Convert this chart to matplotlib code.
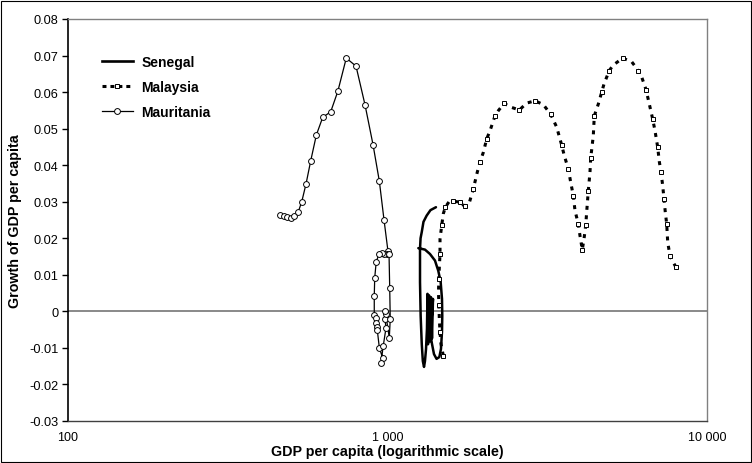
import matplotlib
matplotlib.use("Agg")
import matplotlib.pyplot as plt
from matplotlib.patches import Rectangle
from matplotlib.lines import Line2D

plt.rcParams['font.family'] = ['Liberation Sans', 'DejaVu Sans']

# ---------------- data ----------------
senegal_gdp = [1249, 1310, 1358, 1408, 1442, 1467, 1481, 1484, 1481, 1470, 1453,
               1424, 1398, 1378, 1363,
               1388, 1378, 1368, 1358, 1349, 1339, 1334,
               1329, 1320, 1310, 1301, 1290, 1280, 1270, 1264, 1264, 1269, 1280,
               1296, 1326, 1363, 1418]
senegal_growth = [0.0173, 0.0169, 0.0157, 0.0139, 0.0111, 0.0080, 0.0034, -0.0012,
                  -0.0056, -0.0103, -0.0125, -0.0130, -0.0117, -0.0089, -0.0065,
                  0.0034, -0.0074, 0.0039, -0.0082, 0.0044, -0.0090, 0.0048,
                  -0.0048, -0.0103, -0.0136, -0.0152, -0.0136, -0.0089, -0.0013,
                  0.0080, 0.0171, 0.0200, 0.0217, 0.0245, 0.0262, 0.0277, 0.0285]

malaysia_gdp = [1495, 1470, 1460, 1453, 1448, 1444, 1448, 1453, 1460, 1460, 1478,
                1495, 1517, 1558, 1600, 1647, 1686, 1723, 1748, 1803, 1856, 1910,
                1948, 1995, 2044, 2093, 2170, 2222, 2316, 2448, 2586, 2727, 2895,
                3073, 3242, 3385, 3509, 3576, 3680, 3745, 3815, 3862, 3955, 4004,
                4071, 4121, 4172, 4220, 4251, 4303, 4325, 4407, 4439, 4568, 4682,
                4760, 4945, 5090, 5447, 5812, 6096, 6247, 6443, 6599, 6762, 6875,
                7010, 7091, 7179, 7267, 7335, 7405, 7480, 7534, 7660, 7788, 7981]
malaysia_growth = [-0.0121, -0.0089, -0.0057, -0.0021, 0.0018, 0.0053, 0.0089,
                   0.0122, 0.0157, 0.0198, 0.0235, 0.0267, 0.0285, 0.0300, 0.0302,
                   0.0300, 0.0299, 0.0291, 0.0289, 0.0297, 0.0335, 0.0381, 0.0409,
                   0.0435, 0.0472, 0.0494, 0.0535, 0.0549, 0.0569, 0.0558, 0.0551,
                   0.0570, 0.0576, 0.0566, 0.0539, 0.0504, 0.0455, 0.0426, 0.0390,
                   0.0353, 0.0317, 0.0276, 0.0239, 0.0207, 0.0169, 0.0198, 0.0235,
                   0.0294, 0.0330, 0.0381, 0.0419, 0.0481, 0.0535, 0.0567, 0.0600,
                   0.0622, 0.0659, 0.0674, 0.0693, 0.0683, 0.0659, 0.0641, 0.0607,
                   0.0567, 0.0526, 0.0494, 0.0449, 0.0410, 0.0381, 0.0344, 0.0308,
                   0.0271, 0.0239, 0.0189, 0.0152, 0.0139, 0.0122]

mauritania_gdp = [461, 474, 486, 498, 511, 526, 539, 556, 575, 599, 627, 664, 699,
                  743, 797, 850, 901, 943, 975, 1003, 994, 975, 959, 941, 922, 912,
                  909, 909, 922, 920, 927, 929, 943, 966, 954, 970, 989, 982, 987,
                  984, 1013, 1020, 1016, 1011]
mauritania_growth = [0.0264, 0.0260, 0.0258, 0.0256, 0.0260, 0.0273, 0.0300,
                     0.0349, 0.0412, 0.0483, 0.0531, 0.0546, 0.0602, 0.0693,
                     0.0671, 0.0566, 0.0456, 0.0356, 0.0251, 0.0166, 0.0158,
                     0.0158, 0.0160, 0.0157, 0.0136, 0.0092, 0.0042, -0.0010,
                     -0.0018, -0.0032, -0.0043, -0.0051, -0.0100, -0.0128,
                     -0.0141, -0.0094, -0.0046, -0.0021, -0.0007, 0.0002,
                     -0.0073, -0.0021, 0.0065, 0.0158]

y_ticks = [-0.03, -0.02, -0.01, 0, 0.01, 0.02, 0.03, 0.04, 0.05, 0.06, 0.07, 0.08]
y_tick_labels = ['-0.03', '-0.02', '-0.01', '0', '0.01', '0.02', '0.03', '0.04',
                 '0.05', '0.06', '0.07', '0.08']
x_ticks = [100, 1000, 10000]
x_tick_labels = ['100', '1 000', '10 000']

# ---------------- figure ----------------
W, H = 752, 464
fig = plt.figure(figsize=(W / 100, H / 100), dpi=100)
fig.patch.set_facecolor('white')
fig.patches.append(Rectangle((1.5 / W, 1.5 / H), (W - 3) / W, (H - 3) / H,
                             transform=fig.transFigure, fill=False,
                             edgecolor='black', linewidth=0.8))

ax = fig.add_axes([68 / W, (H - 422) / H, (707 - 68) / W, (422 - 20) / H])
ax.set_xscale('log')
ax.set_xlim(100, 10000)
ax.set_ylim(-0.03, 0.08)

ax.axhline(0, color='#808080', linewidth=1.3, zorder=1)

ax.plot(senegal_gdp, senegal_growth, color='black', linewidth=1.8,
        solid_joinstyle='round', solid_capstyle='round', zorder=3,
        label='Senegal')
ax.plot(malaysia_gdp, malaysia_growth, color='black', linewidth=2.2,
        linestyle=(0, (1.3, 1.8)), marker='s', markersize=2.8,
        markerfacecolor='white', markeredgecolor='black', markeredgewidth=0.7,
        markevery=2, zorder=3, label='Malaysia')
ax.plot(mauritania_gdp, mauritania_growth, color='black', linewidth=0.9,
        marker='o', markersize=4.2, markerfacecolor='white',
        markeredgecolor='black', markeredgewidth=0.7, zorder=4,
        label='Mauritania')

ax.set_yticks(y_ticks)
ax.set_yticklabels(y_tick_labels)
ax.set_xticks(x_ticks)
ax.set_xticklabels(x_tick_labels)
ax.xaxis.set_minor_locator(matplotlib.ticker.NullLocator())
ax.tick_params(axis='y', direction='out', length=4, width=1, pad=3,
               labelsize=9.2, colors='black')
ax.tick_params(axis='x', length=0, pad=7, labelsize=9)

for side in ['top', 'right']:
    ax.spines[side].set_color('#808080')
    ax.spines[side].set_linewidth(1.0)
ax.spines['bottom'].set_color('#404040')
ax.spines['bottom'].set_linewidth(1.0)
ax.spines['left'].set_color('black')
ax.spines['left'].set_linewidth(1.2)

ax.set_xlabel('GDP per capita (logarithmic scale)', fontsize=10.3,
              fontweight='bold', labelpad=1)
ax.set_ylabel('Growth of GDP per capita', fontsize=10.3, fontweight='bold',
              labelpad=5)

handles = [
    Line2D([], [], color='black', linewidth=1.9),
    Line2D([], [], color='black', linewidth=2.2, linestyle=(0, (1.3, 1.3)),
           marker='s', markersize=2.8, markerfacecolor='white',
           markeredgecolor='black', markeredgewidth=0.7),
    Line2D([], [], color='black', linewidth=0.9, marker='o', markersize=4.2,
           markerfacecolor='white', markeredgecolor='black',
           markeredgewidth=0.7),
]
leg = ax.legend(handles, ['Senegal', 'Malaysia', 'Mauritania'],
                loc='upper left', bbox_to_anchor=(0.044, 0.925), frameon=False,
                prop={'weight': 'bold', 'size': 10}, handlelength=2.27,
                handletextpad=0.6, labelspacing=0.8, borderaxespad=0)

fig.savefig('out.png', dpi=100, facecolor='white')
